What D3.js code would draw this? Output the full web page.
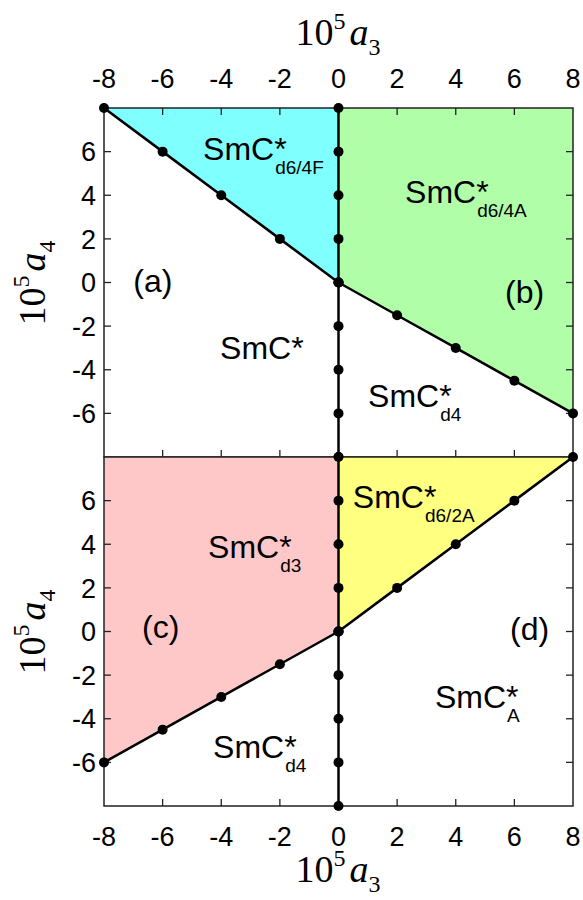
<!DOCTYPE html>
<html><head><meta charset="utf-8">
<script src="https://cdn.jsdelivr.net/npm/d3@7"></script>
<style>body{margin:0;background:#fff}svg{display:block}</style>
</head><body>
<script>
// ---- data ----
const xTicks = [-8,-6,-4,-2,0,2,4,6,8];
const yTicks = [-6,-4,-2,0,2,4,6];
const dotsAxis = [8,6,4,2,0,-2,-4,-6,-8];
// top panel boundaries
const topLeftX = [-8,-6,-4,-2,0];
const topLeftY = [8,6,4,2,0];
const topRightX = [0,2,4,6,8];
const topRightY = [0,-1.5,-3,-4.5,-6];
// bottom panel boundaries
const botLeftX = [-8,-6,-4,-2,0];
const botLeftY = [-6,-4.5,-3,-1.5,0];
const botRightX = [0,2,4,6,8];
const botRightY = [0,2,4,6,8];
// region labels [main, sub, a3, a4]
const topLabels = [["SmC*","d6/4F",-4.62,5.62],["SmC*","d6/4A",2.27,3.64],["(a)","",-7.0,-0.44],["(b)","",5.68,-0.94],["SmC*","",-4.04,-3.51],["SmC*","d4",1.01,-5.71]];
const botLabels = [["SmC*","d6/2A",0.49,5.66],["SmC*","d3",-4.45,3.37],["(c)","",-6.7,-0.3],["(d)","",5.85,-0.39],["SmC*","A",3.29,-3.51],["SmC*","d4",-4.28,-5.8]];

const W=583,H=900;
const L=104,R=573;
const panels=[{top:108,bottom:457},{top:457,bottom:806}];
const svg=d3.select("body").append("svg").attr("width",W).attr("height",H);
const x=d3.scaleLinear().domain([-8,8]).range([L,R]);
const SANS="'Liberation Sans', Arial, sans-serif";
const SERIF="'Liberation Serif', 'Times New Roman', serif";
const zip=(a,b)=>a.map((v,i)=>[v,b[i]]);

function drawPanel(p, idx){
  const y=d3.scaleLinear().domain([-8,8]).range([p.bottom,p.top]);
  const g=svg.append("g");
  if(idx===0){
    const left=zip(topLeftX,topLeftY), right=zip(topRightX,topRightY);
    g.append("path").attr("d",d3.line().x(d=>x(d[0])).y(d=>y(d[1]))([...left,[0,8]])+"Z").attr("fill","#80ffff");
    g.append("path").attr("d",d3.line().x(d=>x(d[0])).y(d=>y(d[1]))([[0,8],[8,8],...right.slice().reverse()])+"Z").attr("fill","#b0ffa8");
  } else {
    const left=zip(botLeftX,botLeftY), right=zip(botRightX,botRightY);
    g.append("path").attr("d",d3.line().x(d=>x(d[0])).y(d=>y(d[1]))([[-8,8],[0,8],...left.slice().reverse()])+"Z").attr("fill","#ffc8c8");
    g.append("path").attr("d",d3.line().x(d=>x(d[0])).y(d=>y(d[1]))([...right,[0,8]])+"Z").attr("fill","#ffff80");
  }
  // frame
  g.append("rect").attr("x",L).attr("y",p.top).attr("width",R-L).attr("height",p.bottom-p.top)
    .attr("fill","none").attr("stroke","#222").attr("stroke-width",1.5);
  // ticks
  const tl=7;
  const xt=xTicks.filter(v=>v>-8&&v<8);
  if(idx===0) xt.forEach(v=>g.append("line").attr("x1",x(v)).attr("x2",x(v)).attr("y1",p.top).attr("y2",p.top+tl).attr("stroke","#222").attr("stroke-width",1.3));
  xt.forEach(v=>g.append("line").attr("x1",x(v)).attr("x2",x(v)).attr("y1",p.bottom).attr("y2",p.bottom-tl).attr("stroke","#222").attr("stroke-width",1.3));
  yTicks.forEach(v=>{
    g.append("line").attr("x1",L).attr("x2",L+tl).attr("y1",y(v)).attr("y2",y(v)).attr("stroke","#222").attr("stroke-width",1.3);
    g.append("line").attr("x1",R).attr("x2",R-tl).attr("y1",y(v)).attr("y2",y(v)).attr("stroke","#222").attr("stroke-width",1.3);
  });
  // y tick labels
  yTicks.forEach(v=>g.append("text").attr("x",L-8).attr("y",y(v)).attr("dy","0.36em").attr("text-anchor","end")
    .attr("font-family",SANS).attr("font-size",27).text(v));
  // boundary lines
  const ln=d3.line().x(d=>x(d[0])).y(d=>y(d[1]));
  const sets = idx===0 ? [zip(topLeftX,topLeftY),zip(topRightX,topRightY)] : [zip(botLeftX,botLeftY),zip(botRightX,botRightY)];
  const vert = dotsAxis.map(v=>[0,v]);
  [...sets,vert].forEach(s=>g.append("path").attr("d",ln(s)).attr("fill","none").attr("stroke","#000").attr("stroke-width",2.5));
  [...sets,vert].forEach(s=>s.forEach(d=>g.append("circle").attr("cx",x(d[0])).attr("cy",y(d[1])).attr("r",5).attr("fill","#000")));
  // labels
  const labs = idx===0?topLabels:botLabels;
  labs.forEach(([m,s,a,b])=>{
    const t=g.append("text").attr("x",x(a)).attr("y",y(b)).attr("font-family",SANS).attr("font-size",32).attr("fill","#000");
    if(m.endsWith("*")){
      t.append("tspan").text(m.slice(0,-1));
      const w=t.node().getComputedTextLength();
      t.append("tspan").text("*");
      if(s) g.append("text").attr("x",x(a)+w+1).attr("y",y(b)+14).attr("font-family",SANS).attr("font-size",19).text(s);
    } else t.text(m);
  });
}
panels.forEach(drawPanel);

// x tick labels
xTicks.forEach(v=>{
  svg.append("text").attr("x",x(v)).attr("y",88).attr("text-anchor","middle").attr("font-family",SANS).attr("font-size",27).text(v);
  svg.append("text").attr("x",x(v)).attr("y",846).attr("text-anchor","middle").attr("font-family",SANS).attr("font-size",27).text(v);
});

function axisTitle(sel, sub){
  const t=sel.append("text").attr("font-family",SERIF).attr("font-size",38).attr("text-anchor","middle");
  t.append("tspan").text("10");
  t.append("tspan").attr("font-size",24).attr("dy",-16).text("5");
  t.append("tspan").attr("font-style","italic").attr("dy",16).attr("dx",4).text("a");
  t.append("tspan").attr("font-size",24).attr("dy",10).text(sub);
  return t;
}
axisTitle(svg.append("g").attr("transform","translate(338,45)"),"3");
axisTitle(svg.append("g").attr("transform","translate(338,882)"),"3");
axisTitle(svg.append("g").attr("transform","translate(45,283) rotate(-90)"),"4");
axisTitle(svg.append("g").attr("transform","translate(45,632) rotate(-90)"),"4");
</script>
</body></html>
